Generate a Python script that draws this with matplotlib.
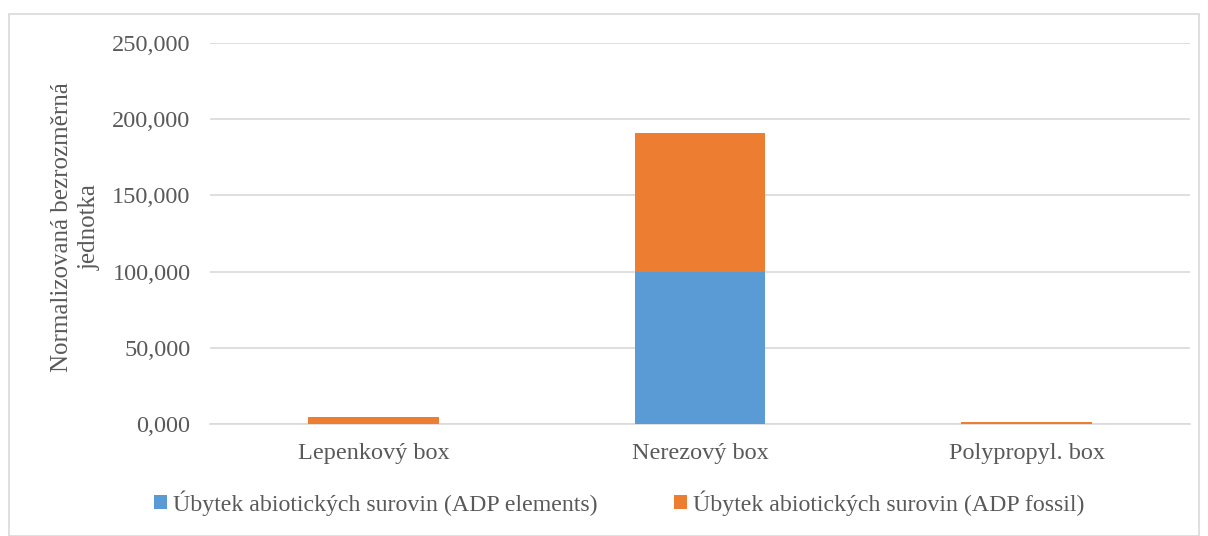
import matplotlib
matplotlib.use("Agg")
import matplotlib.pyplot as plt
from matplotlib.patches import Rectangle
from matplotlib.ticker import FuncFormatter

categories = ["Lepenkový box", "Nerezový box", "Polypropyl. box"]
adp_elements = [0.05, 100.0, 0.03]
adp_fossil = [4.5, 91.0, 1.5]
series_names = ["Úbytek abiotických surovin (ADP elements)",
                "Úbytek abiotických surovin (ADP fossil)"]
y_ticks = [0, 50, 100, 150, 200, 250]

plt.rcParams["font.family"] = ["Liberation Serif", "DejaVu Serif"]
text_color = "#595959"
blue = "#5B9BD5"
orange = "#ED7D31"
fs = 17.5

fig = plt.figure(figsize=(12.08, 5.36), dpi=100)
ax = fig.add_axes([210 / 1208, 1 - 424 / 536, 980 / 1208, 381 / 536])

x = list(range(len(categories)))
ax.bar(x, adp_elements, width=0.4, color=blue, label=series_names[0], zorder=3)
ax.bar(x, adp_fossil, width=0.4, bottom=adp_elements, color=orange,
       label=series_names[1], zorder=3)

ax.set_xlim(-0.5, 2.5)
ax.set_ylim(0, 250)
ax.set_yticks(y_ticks)
ax.yaxis.set_major_formatter(FuncFormatter(lambda v, p: f"{v:,.3f}".replace(",", " ").replace(".", ",").replace(" ", ",")))
ax.set_xticks(x)
ax.set_xticklabels(categories)
ax.tick_params(axis="both", length=0, labelsize=fs, colors=text_color)
ax.tick_params(axis="y", pad=14)
ax.tick_params(axis="x", pad=14)
ax.grid(axis="y", color="#D9D9D9", linewidth=1.2, zorder=0)
for side in ["left", "right", "top"]:
    ax.spines[side].set_visible(False)
ax.spines["bottom"].set_color("#D9D9D9")
ax.spines["bottom"].set_linewidth(1.2)

fig.text(76 / 1208, 1 - 227 / 536, "Normalizovaná bezrozměrná\njednotka",
         rotation=90, ha="center", va="center", fontsize=18,
         color=text_color, linespacing=1.3)

leg = fig.legend(loc="center", bbox_to_anchor=(619 / 1208, 1 - 503 / 536),
                 ncol=2, frameon=False, fontsize=17.2, handlelength=0.55,
                 handleheight=0.55, handletextpad=0.25, columnspacing=3.2)
for t in leg.get_texts():
    t.set_color(text_color)

fig.patches.append(Rectangle((9 / 1208, 0), 1 - 18 / 1208, 1 - 14 / 536,
                             transform=fig.transFigure, fill=False,
                             edgecolor="#D9D9D9", linewidth=1.2))

fig.savefig("out.png", dpi=100, facecolor="white")
